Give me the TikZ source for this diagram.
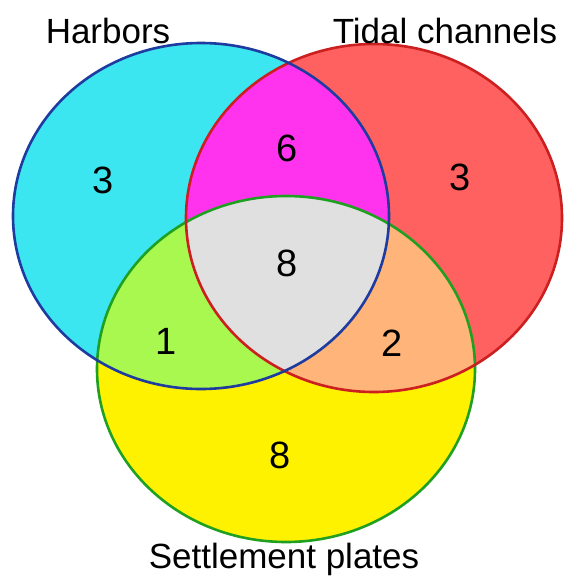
\documentclass[tikz,border=0pt]{standalone}
\usepackage{fontspec}
\setmainfont{Liberation Sans}
\definecolor{cA}{HTML}{3CE6F0}
\definecolor{cB}{HTML}{FF6060}
\definecolor{cC}{HTML}{FFF200}
\definecolor{cAB}{HTML}{FF33EE}
\definecolor{cAC}{HTML}{A8F850}
\definecolor{cBC}{HTML}{FFB47A}
\definecolor{cABC}{HTML}{E0E0E0}
\definecolor{bA}{HTML}{1E3CA0}
\definecolor{bB}{HTML}{CC2020}
\definecolor{bC}{HTML}{20A020}
\tikzset{
  lbl/.style={font=\fontsize{35}{40}\selectfont, inner sep=0pt},
  num/.style={font=\fontsize{38}{42}\selectfont, inner sep=0pt},
  rim/.style={line width=2.6pt}
}
\begin{document}
\begin{tikzpicture}[x=1pt,y=-1pt]
\useasboundingbox (0,0) rectangle (563,581);
\def\setA{(201,216) ellipse [x radius=188, y radius=173]}
\def\setB{(374,218) ellipse [x radius=188, y radius=174]}
\def\setC{(286,369) ellipse [x radius=189, y radius=173]}
\fill[cA] \setA;
\fill[cB] \setB;
\fill[cC] \setC;
\begin{scope}\clip \setA; \fill[cAB] \setB; \end{scope}
\begin{scope}\clip \setA; \fill[cAC] \setC; \end{scope}
\begin{scope}\clip \setB; \fill[cBC] \setC; \end{scope}
\begin{scope}\clip \setA; \clip \setB; \fill[cABC] \setC; \end{scope}
\draw[rim, bC] \setC;
\draw[rim, bB] \setB;
\draw[rim, bA] \setA;
\node[lbl] (lA) at (108,31) {Harbors};
\node[lbl] (lB) at (445,31) {Tidal channels};
\node[lbl] (lC) at (284,559) {Settlement plates};
\node[num] (nA) at (103,180) {3};
\node[num] (nAB) at (287,148) {6};
\node[num] (nB) at (460,177) {3};
\node[num] (nABC) at (287,263) {8};
\node[num] (nAC) at (166,341) {1};
\node[num] (nBC) at (392,343) {2};
\node[num] (nC) at (280,455) {8};
\end{tikzpicture}
\end{document}
